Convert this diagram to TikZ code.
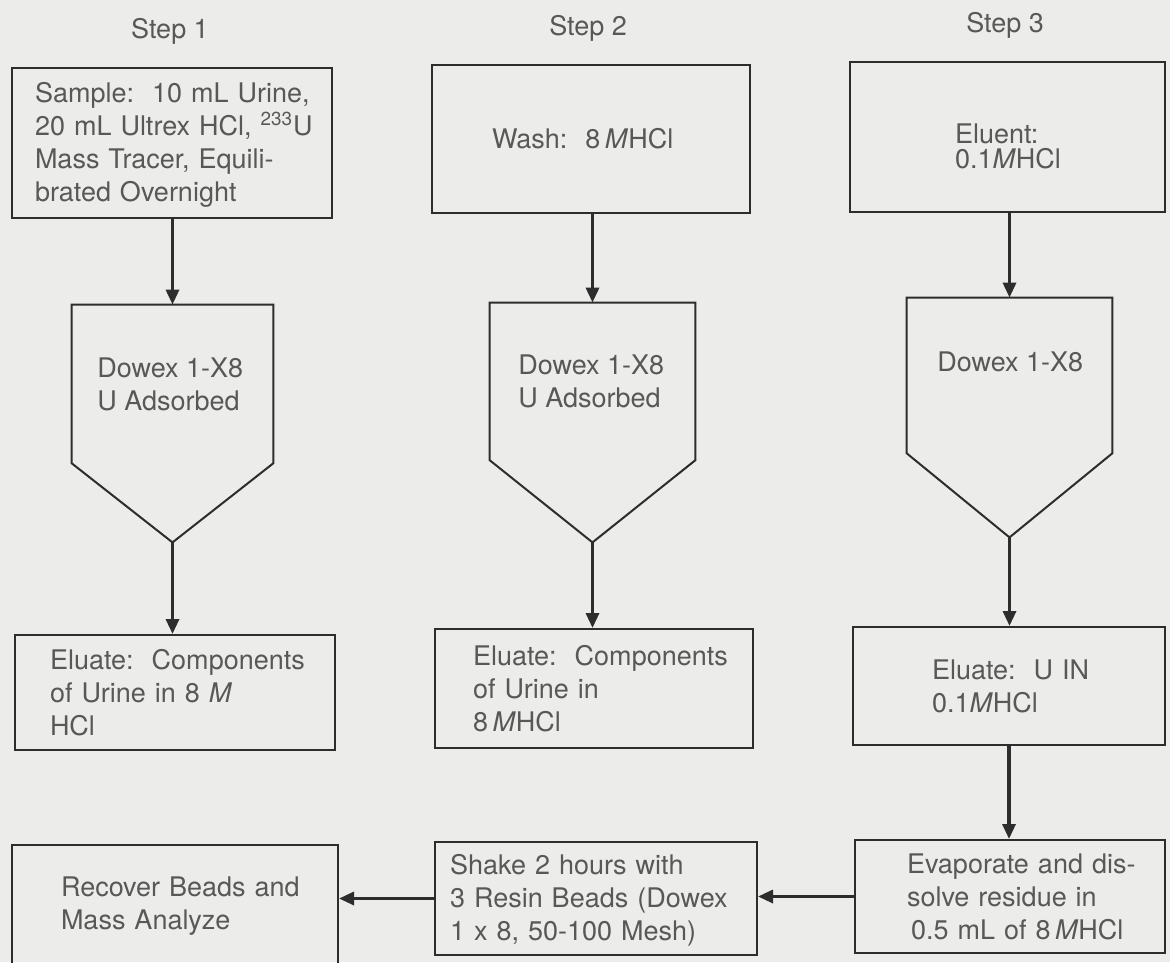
\documentclass[tikz,border=0pt]{standalone}
\usepackage{fontspec}
\setmainfont{TeX Gyre Heros}
\usetikzlibrary{arrows.meta,calc}
\definecolor{bgc}{RGB}{236,236,234}
\definecolor{linec}{RGB}{45,45,45}
\definecolor{txtc}{RGB}{88,88,88}
\begin{document}
\begin{tikzpicture}[x=0.5pt,y=-0.5pt,
  font=\fontsize{13.5}{16.5}\selectfont,
  box/.style={draw=linec, line width=1pt, text=txtc, align=left, inner xsep=0pt, inner ysep=0pt},
  colshape/.style={draw=none, inner sep=0pt},
  txt/.style={text=txtc, align=left, inner sep=0pt},
  arr/.style={draw=linec, line width=1.6pt, -{Triangle[length=7.5pt,width=6.5pt]}},
  outline/.style={draw=linec, line width=1pt, line join=miter}
]
\fill[bgc] (0,0) rectangle (1170,962);
\useasboundingbox (0,0) rectangle (1170,962);

% step labels
\node[txt] (st1) at (170,31) {Step 1};
\node[txt] (st2) at (588,28) {Step 2};
\node[txt] (st3) at (1005,25) {Step 3};

% top boxes
\node[box, text width=160pt, minimum height=75pt] (s1) at (172,143)
  {\leftskip=11.5pt \rule{0pt}{12pt}Sample:\ \ 10 mL Urine,\\20 mL Ultrex HCl, \textsuperscript{233}U\\Mass Tracer, Equili-\\brated Overnight\par};
\node[box, text width=159pt, minimum height=74pt] (s2) at (591,139)
  {\leftskip=30pt Wash:\ \ 8\,\textit{M}HCl\par};
\node[box, text width=157.5pt, minimum height=75pt,
  font=\fontsize{13.5}{12.5}\selectfont] (s3) at (1007.5,137)
  {\leftskip=52.5pt \rule{0pt}{19pt}Eluent:\\0.1\textit{M}HCl\par};

% columns (pentagons)
\node[colshape, minimum width=100.5pt, minimum height=118.5pt] (p1) at (172.5,423.5) {};
\node[colshape, minimum width=102.5pt, minimum height=119.5pt] (p2) at (592.5,422.5) {};
\node[colshape, minimum width=102.5pt, minimum height=119.5pt] (p3) at (1009.5,417.5) {};
\draw[outline] (p1.north west) -- (p1.north east) -- ($(p1.north east)!0.667!(p1.south east)$)
  -- (p1.south) -- ($(p1.north west)!0.667!(p1.south west)$) -- cycle;
\draw[outline] (p2.north west) -- (p2.north east) -- ($(p2.north east)!0.657!(p2.south east)$)
  -- (p2.south) -- ($(p2.north west)!0.657!(p2.south west)$) -- cycle;
\draw[outline] (p3.north west) -- (p3.north east) -- ($(p3.north east)!0.649!(p3.south east)$)
  -- (p3.south) -- ($(p3.north west)!0.649!(p3.south west)$) -- cycle;
\node[txt, anchor=west] (p1t) at (97,384) {Dowex 1-X8\\U Adsorbed};
\node[txt, anchor=west] (p2t) at (518,381) {Dowex 1-X8\\U Adsorbed};
\node[txt, anchor=west] (p3t) at (937,362) {Dowex 1-X8};

% eluate boxes
\node[box, text width=160pt, minimum height=57.5pt] (e1) at (175,692.5)
  {\leftskip=17.5pt Eluate:\ \ Components\\of Urine in 8 \textit{M}\\HCl\par};
\node[box, text width=159pt, minimum height=59.5pt] (e2) at (594,688.5)
  {\leftskip=19pt Eluate:\ \ Components\\of Urine in\\8\,\textit{M}HCl\par};
\node[box, text width=156pt, minimum height=59pt] (e3) at (1009,686)
  {\leftskip=39.5pt Eluate:\ \ U IN\\0.1\textit{M}HCl\par};

% bottom row
\node[box, text width=163pt, minimum height=61.5pt] (rec) at (175,906.5)
  {\leftskip=24.5pt Recover Beads and\\Mass Analyze\par};
\node[box, text width=161pt, minimum height=56.5pt] (shake) at (596,898.5)
  {\leftskip=7.5pt \rule{0pt}{12pt}Shake 2 hours with\\3 Resin Beads (Dowex\\1 x 8, 50-100 Mesh)\par};
\node[box, text width=155pt, minimum height=56.5pt] (evap) at (1010,896.5)
  {\leftskip=26pt Evaporate and dis-\\solve residue in\\\hspace*{2pt}0.5 mL of 8\,\textit{M}HCl\par};

% connectors
\draw[arr] (p1.north |- s1.south) -- (p1.north);
\draw[arr] (p2.north |- s2.south) -- (p2.north);
\draw[arr] (p3.north |- s3.south) -- (p3.north);
\draw[arr] (p1.south) -- (p1.south |- e1.north);
\draw[arr] (p2.south) -- (p2.south |- e2.north);
\draw[arr] (p3.south) -- (p3.south |- e3.north);
\draw[arr] (e3.south) -- (e3.south |- evap.north);
\draw[arr] (evap.west) -- (evap.west -| shake.east);
\draw[arr] (shake.west) -- (shake.west -| rec.east);
\end{tikzpicture}
\end{document}
